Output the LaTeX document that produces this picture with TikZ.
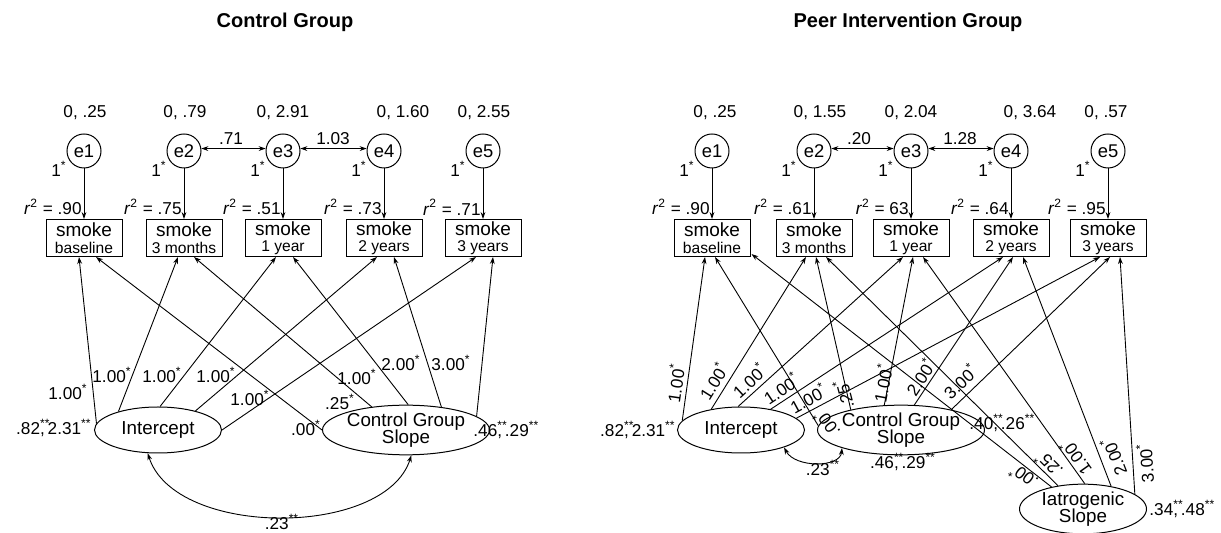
\documentclass[tikz,border=0pt]{standalone}
\usepackage{fontspec}
\setmainfont{Liberation Sans}
\usetikzlibrary{positioning,arrows.meta,calc,shapes.geometric}
\newcommand{\onestar}{\textsuperscript{*}}
\newcommand{\twostar}{\textsuperscript{**}}
\tikzset{
  errc/.style={circle, draw, line width=0.5pt, minimum size=17pt, inner sep=0pt,
               font=\fontsize{9.2}{10}\selectfont},
  obs/.style={rectangle, draw, line width=0.5pt, minimum width=38pt, minimum height=18.5pt,
              inner sep=0pt, align=center, font=\fontsize{9.5}{8.2}\selectfont},
  lat/.style={ellipse, draw, line width=0.5pt, minimum width=63.5pt, minimum height=23pt,
              inner sep=0pt, align=center, font=\fontsize{9.4}{8.8}\selectfont},
  load/.style={-{Stealth[length=3.5pt,width=2.4pt]}, line width=0.45pt},
  cov/.style={{Stealth[length=3.5pt,width=2.4pt]}-{Stealth[length=3.5pt,width=2.4pt]}, line width=0.45pt},
  num/.style={font=\fontsize{8.6}{9}\selectfont, inner sep=0.5pt},
  ttl/.style={font=\fontsize{10}{12}\selectfont\bfseries}
}
\newcommand{\sub}[1]{{\fontsize{7.8}{8}\selectfont #1}}

\begin{document}
\begin{tikzpicture}[x=0.5pt, y=-0.5pt]
        \useasboundingbox (0,0) rectangle (1221,533);
        % control group
        \node[ttl] (t1) at (285,22) {Control Group};
        \node[num] (v1) at (85,113) {0, .25};
        \node[num] (v2) at (185,113) {0, .79};
        \node[num] (v3) at (283,113) {0, 2.91};
        \node[num] (v4) at (403,113) {0, 1.60};
        \node[num] (v5) at (484,113) {0, 2.55};
        \node[errc] (e1) at (84,151) {e1};
        \node[errc] (e2) at (184,151) {e2};
        \node[errc] (e3) at (283,151) {e3};
        \node[errc] (e4) at (384,151) {e4};
        \node[errc] (e5) at (483,151) {e5};
        \node[num, anchor=east] (o1) at ($(e1.center)+(-16,18)$) {1\onestar};
        \node[num, anchor=east] (o2) at ($(e2.center)+(-16,18)$) {1\onestar};
        \node[num, anchor=east] (o3) at ($(e3.center)+(-16,18)$) {1\onestar};
        \node[num, anchor=east] (o4) at ($(e4.center)+(-16,18)$) {1\onestar};
        \node[num, anchor=east] (o5) at ($(e5.center)+(-16,18)$) {1\onestar};
        \node[obs] (b1) at (84,238) {smoke\\\sub{baseline}};
        \node[obs] (b2) at (184,238) {smoke\\\sub{3 months}};
        \node[obs] (b3) at (283,238) {smoke\\\sub{1 year}};
        \node[obs] (b4) at (384,238) {smoke\\\sub{2 years}};
        \node[obs] (b5) at (483,238) {smoke\\\sub{3 years}};
        \node[num, anchor=east] (r1) at (83,207) {\textit{r}\textsuperscript{2} = .90};
        \node[num, anchor=east] (r2) at (183,207) {\textit{r}\textsuperscript{2} = .75};
        \node[num, anchor=east] (r3) at (282,207) {\textit{r}\textsuperscript{2} = .51};
        \node[num, anchor=east] (r4) at (383,207) {\textit{r}\textsuperscript{2} = .73};
        \node[num, anchor=east] (r5) at (482,207) {\textit{r}\textsuperscript{2} = .71};
        \draw[load] (e1) -- (b1); \draw[load] (e2) -- (b2); \draw[load] (e3) -- (b3);
        \draw[load] (e4) -- (b4); \draw[load] (e5) -- (b5);
        \draw[cov] (e2.8) -- (e3.172); \draw[cov] (e3.8) -- (e4.172);
        \node[num] (c23) at (231,139) {.71};
        \node[num] (c34) at (333,139) {1.03};
        \node[lat] (int) at (158,430) {Intercept};
        \node[lat] (cs) at (406,430) {Control Group\\Slope};
        \draw[load] (int.174) -- ($(b1.south)+(-5,0)$);
        \draw[load] (int.155) -- ($(b2.south)+(-6,0)$);
        \draw[load] (int.85) -- ($(b3.south)+(-7,0)$);
        \draw[load] (int.27) -- ($(b4.south)+(-7,0)$);
        \draw[load] (int.0) -- ($(b5.south)+(-7,0)$);
        \draw[load] (cs.180) -- ($(b1.south)+(12,0)$);
        \draw[load] (cs.146) -- ($(b2.south)+(10,0)$);
        \draw[load] (cs.85) -- ($(b3.south)+(10,0)$);
        \draw[load] (cs.33) -- ($(b4.south)+(10,0)$);
        \draw[load] (cs.11) -- ($(b5.south)+(10,0)$);
        \node[num] (i1) at (68,392) {1.00\onestar};
        \node[num] (i2) at (112,375) {1.00\onestar};
        \node[num] (i3) at (162,375) {1.00\onestar};
        \node[num] (i4) at (216,375) {1.00\onestar};
        \node[num] (i5) at (250,398) {1.00\onestar};
        \node[num] (s1) at (306,428) {.00\onestar};
        \node[num] (s2) at (340,402) {.25\onestar};
        \node[num] (s3) at (357,377) {1.00\onestar};
        \node[num] (s4) at (401,363) {2.00\onestar};
        \node[num] (s5) at (451,363) {3.00\onestar};
        \node[num, anchor=east] (vi) at (93,428) {.82\rlap{\twostar},\,2.31\twostar};
        \node[num, anchor=west] (vs) at (472,430) {.46\rlap{\twostar},\,.29\twostar};
        \draw[cov] (int.246) .. controls (175,538) and (385,538) .. (cs.282);
        \node[num] (ci) at (282,522) {.23\twostar};

        % peer intervention group
        \node[ttl] (t2) at (908,22) {Peer Intervention Group};
        \node[num] (pv1) at (715,113) {0, .25};
        \node[num] (pv2) at (820,113) {0, 1.55};
        \node[num] (pv3) at (911,113) {0, 2.04};
        \node[num] (pv4) at (1030,113) {0, 3.64};
        \node[num] (pv5) at (1106,113) {0, .57};
        \node[errc] (pe1) at (712,151) {e1};
        \node[errc] (pe2) at (814,151) {e2};
        \node[errc] (pe3) at (911,151) {e3};
        \node[errc] (pe4) at (1011,151) {e4};
        \node[errc] (pe5) at (1108,151) {e5};
        \node[num, anchor=east] (po1) at ($(pe1.center)+(-16,18)$) {1\onestar};
        \node[num, anchor=east] (po2) at ($(pe2.center)+(-16,18)$) {1\onestar};
        \node[num, anchor=east] (po3) at ($(pe3.center)+(-16,18)$) {1\onestar};
        \node[num, anchor=east] (po4) at ($(pe4.center)+(-16,18)$) {1\onestar};
        \node[num, anchor=east] (po5) at ($(pe5.center)+(-16,18)$) {1\onestar};
        \node[obs] (pb1) at (712,238) {smoke\\\sub{baseline}};
        \node[obs] (pb2) at (814,238) {smoke\\\sub{3 months}};
        \node[obs] (pb3) at (911,238) {smoke\\\sub{1 year}};
        \node[obs] (pb4) at (1011,238) {smoke\\\sub{2 years}};
        \node[obs] (pb5) at (1108,238) {smoke\\\sub{3 years}};
        \node[num, anchor=east] (pr1) at (711,207) {\textit{r}\textsuperscript{2} = .90};
        \node[num, anchor=east] (pr2) at (813,207) {\textit{r}\textsuperscript{2} = .61};
        \node[num, anchor=east] (pr3) at (910,207) {\textit{r}\textsuperscript{2} = 63};
        \node[num, anchor=east] (pr4) at (1010,207) {\textit{r}\textsuperscript{2} = .64};
        \node[num, anchor=east] (pr5) at (1107,207) {\textit{r}\textsuperscript{2} = .95};
        \draw[load] (pe1) -- (pb1); \draw[load] (pe2) -- (pb2); \draw[load] (pe3) -- (pb3);
        \draw[load] (pe4) -- (pb4); \draw[load] (pe5) -- (pb5);
        \draw[cov] (pe2.8) -- (pe3.172); \draw[cov] (pe3.8) -- (pe4.172);
        \node[num] (pc23) at (859,139) {.20};
        \node[num] (pc34) at (960,139) {1.28};
        \node[lat] (pint) at (741,430) {Intercept};
        \node[lat] (pcs) at (901,430) {Control Group\\Slope};
        \node[lat] (pis) at (1083,509) {Iatrogenic\\Slope};
        \draw[load] (pint.171) -- ($(pb1.south)+(-7,0)$);
        \draw[load] (pint.145) -- ($(pb2.south)+(-8,0)$);
        \draw[load] (pint.97) -- ($(pb3.south)+(-8,0)$);
        \draw[load] (pint.35) -- ($(pb4.south)+(-8,0)$);
        \draw[load] (pint.12) -- ($(pb5.south)+(-8,0)$);
        \draw[load] (pcs.177) -- ($(pb1.south)+(3,0)$);
        \draw[load] (pcs.158) -- ($(pb2.south)+(2,0)$);
        \draw[load] (pcs.124) -- ($(pb3.south)+(2,0)$);
        \draw[load] (pcs.62) -- ($(pb4.south)+(2,0)$);
        \draw[load] (pcs.22) -- ($(pb5.south)+(2,0)$);
        \draw[load] (pis.145) -- ($(pb1.south east)+(1,-3)$);
        \draw[load] (pis.137) -- ($(pb2.south)+(12,0)$);
        \draw[load] (pis.86) -- ($(pb3.south)+(12,0)$);
        \draw[load] (pis.39) -- ($(pb4.south)+(12,0)$);
        \draw[load] (pis.16) -- ($(pb5.south)+(12,0)$);
        \node[num, rotate=81.6] (pi1) at (675,383) {1.00\onestar};
        \node[num, rotate=58] (pi2) at (713,381) {1.00\onestar};
        \node[num, rotate=42.8] (pi3) at (749,380) {1.00\onestar};
        \node[num, rotate=33.6] (pi4) at (781,388) {1.00\onestar};
        \node[num, rotate=28.4] (pi5) at (808,398) {1.00\onestar};
        \node[num, rotate=126] (ps1) at (826,424) {.00\onestar};
        \node[num, rotate=104.8] (ps2) at (843,394) {.25\onestar};
        \node[num, rotate=79.4] (ps3) at (882,383) {1.00\onestar};
        \node[num, rotate=56.8] (ps4) at (920,377) {2.00\onestar};
        \node[num, rotate=42.8] (ps5) at (960,381) {3.00\onestar};
        \node[num, rotate=142.2] (pa1) at (1023,477) {.00\onestar};
        \node[num, rotate=135.4] (pa2) at (1048,465) {.25\onestar};
        \node[num, rotate=125.2] (pa3) at (1075,458) {1.00\onestar};
        \node[num, rotate=111.5] (pa4) at (1113,457) {2.00\onestar};
        \node[num, rotate=93.6] (pa5) at (1145,463) {3.00\onestar};
        \node[num, anchor=east] (pvi) at (677,430) {.82\rlap{\twostar},\,2.31\twostar};
        \node[num] (pvs) at (903,462) {.46\rlap{\twostar},\,.29\twostar};
        \node[num, anchor=west] (pvt) at (968,423) {.40\rlap{\twostar},\,.26\twostar};
        \node[num, anchor=west] (pva) at (1148,509) {.34\rlap{\twostar},\,.48\twostar};
        \draw[cov] (pint.338) .. controls (795,468) and (840,468) .. (pcs.197);
        \node[num] (pci) at (823,468) {.23\twostar};
\end{tikzpicture}
\end{document}
